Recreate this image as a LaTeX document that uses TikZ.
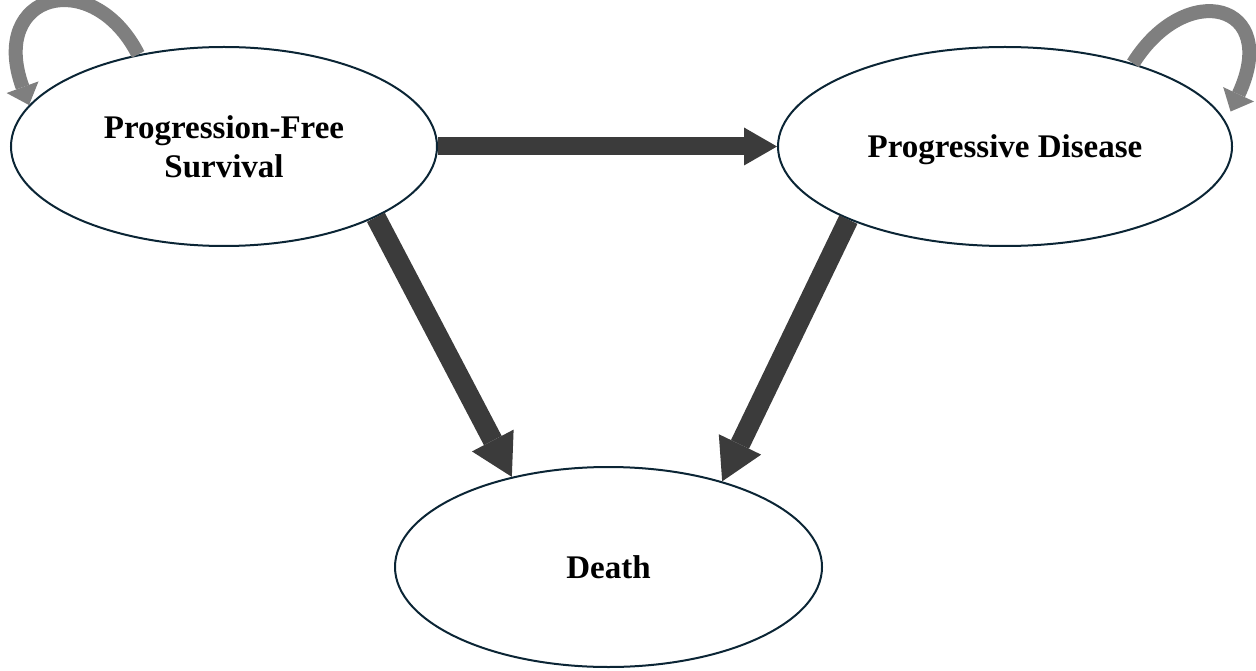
\documentclass[tikz,border=0pt]{standalone}
\usepackage{fontspec}
\setmainfont{Liberation Serif}
\usetikzlibrary{arrows.meta,shapes.geometric,calc}
\definecolor{rim}{HTML}{0B2535}
\definecolor{flowgray}{HTML}{3B3B3B}
\definecolor{staygray}{HTML}{7F7F7F}

\begin{document}
\begin{tikzpicture}[x=0.5pt,y=0.5pt,
  state/.style={ellipse, draw=rim, line width=1pt, inner sep=0pt, align=center, text depth=0pt,
    font=\bfseries\fontsize{16.5}{19.5}\selectfont},
  flow/.style={draw=flowgray, line width=9pt, -{Triangle[width=19pt,length=16.5pt,line width=0pt]}},
  fall/.style={draw=flowgray, line width=10pt, -{Triangle[width=23.5pt,length=20.5pt,line width=0pt]}},
  stay/.style={draw=staygray, line width=7pt, -{Triangle[width=17pt,length=9.5pt,line width=0pt]}}]
\useasboundingbox (0,0) rectangle (1256,670);
\node[state, minimum width=213pt, minimum height=99.5pt] (pfs) at (224,523.5) {Progression-Free\\Survival};
\node[state, minimum width=227pt, minimum height=99.5pt] (pd) at (1005,523.5) {Progressive Disease};
\node[state, minimum width=213.5pt, minimum height=100pt] (death) at (608.5,103) {Death};
\draw[flow] (pfs.east) -- (pd.west);
\draw[fall] (pfs.-25) -- (death.137);
\draw[fall] (pd.205.5) -- (death.37);
% staying in the same state
\draw[stay] (pfs.133) .. controls +(117:100) and +(110:120) .. (pfs.168);
\draw[stay] (pd.33) .. controls +(58:100) and +(65:120) .. ($(pd.9)+(11,1)$);
\end{tikzpicture}
\end{document}
